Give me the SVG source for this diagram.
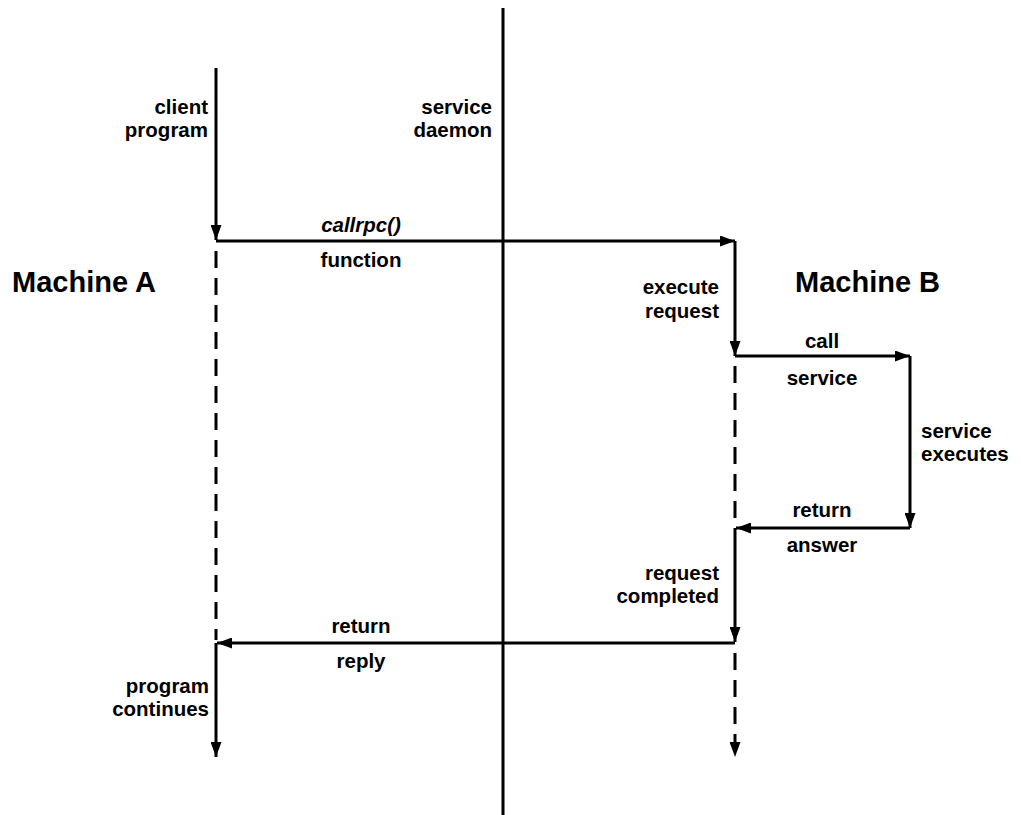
<svg xmlns="http://www.w3.org/2000/svg" width="1021" height="815" viewBox="0 0 1021 815">
<style>
.ln{stroke:#000;stroke-width:3;fill:none}
.ds{stroke:#000;stroke-width:3;fill:none;stroke-dasharray:17 10}
.t{font-family:"Liberation Sans",Arial,sans-serif;font-size:20.5px;font-weight:bold;fill:#000}
.r{text-anchor:end}
.m{text-anchor:middle}
.big{font-family:"Liberation Sans",Arial,sans-serif;font-size:29px;font-weight:bold;fill:#000}
</style>
<defs>
<marker id="ah" viewBox="0 0 15 11" refX="15" refY="5.5" markerWidth="15" markerHeight="11" markerUnits="userSpaceOnUse" orient="auto">
<path d="M0,0 L15,5.5 L0,11 Z" fill="#000"/>
</marker>
</defs>
<rect width="1021" height="815" fill="#fff"/>
<g id="connectors">
<line id="divider" class="ln" x1="503" y1="8" x2="503" y2="815"/>
<line class="ln" x1="216" y1="68" x2="216" y2="240" marker-end="url(#ah)"/>
<line class="ln" x1="216" y1="241" x2="735" y2="241" marker-end="url(#ah)"/>
<line class="ln" x1="735" y1="241" x2="735" y2="356" marker-end="url(#ah)"/>
<line class="ln" x1="735" y1="356" x2="910" y2="356" marker-end="url(#ah)"/>
<line class="ln" x1="910" y1="356" x2="910" y2="528" marker-end="url(#ah)"/>
<line class="ln" x1="910" y1="528" x2="736" y2="528" marker-end="url(#ah)"/>
<line class="ln" x1="735" y1="528" x2="735" y2="642" marker-end="url(#ah)"/>
<line class="ln" x1="735" y1="643" x2="217" y2="643" marker-end="url(#ah)"/>
<line class="ln" x1="216" y1="643" x2="216" y2="757" marker-end="url(#ah)"/>
<line class="ds" x1="216" y1="251" x2="216" y2="640"/>
<line class="ds" x1="735" y1="366" x2="735" y2="526"/>
<line class="ds" x1="735" y1="653" x2="735" y2="757" marker-end="url(#ah)"/>
</g>
<g id="client-program"><text class="t r" x="208" y="114">client</text><text class="t r" x="208" y="137">program</text></g>
<g id="service-daemon"><text class="t r" x="492" y="114">service</text><text class="t r" x="492" y="137">daemon</text></g>
<g id="callrpc-label"><text class="t m" x="361" y="232" font-style="italic">callrpc()</text><text class="t m" x="361" y="267">function</text></g>
<g id="machine-a"><text class="big" x="12" y="292">Machine A</text></g>
<g id="machine-b"><text class="big" x="795" y="292">Machine B</text></g>
<g id="execute-request"><text class="t r" x="719" y="294">execute</text><text class="t r" x="719" y="318">request</text></g>
<g id="call-service"><text class="t m" x="822" y="348">call</text><text class="t m" x="822" y="385">service</text></g>
<g id="service-executes"><text class="t" x="921" y="438">service</text><text class="t" x="921" y="461">executes</text></g>
<g id="return-answer"><text class="t m" x="822" y="517">return</text><text class="t m" x="822" y="552">answer</text></g>
<g id="request-completed"><text class="t r" x="719" y="580">request</text><text class="t r" x="719" y="603">completed</text></g>
<g id="return-reply"><text class="t m" x="361" y="633">return</text><text class="t m" x="361" y="668">reply</text></g>
<g id="program-continues"><text class="t r" x="209" y="693">program</text><text class="t r" x="209" y="716">continues</text></g>
</svg>
